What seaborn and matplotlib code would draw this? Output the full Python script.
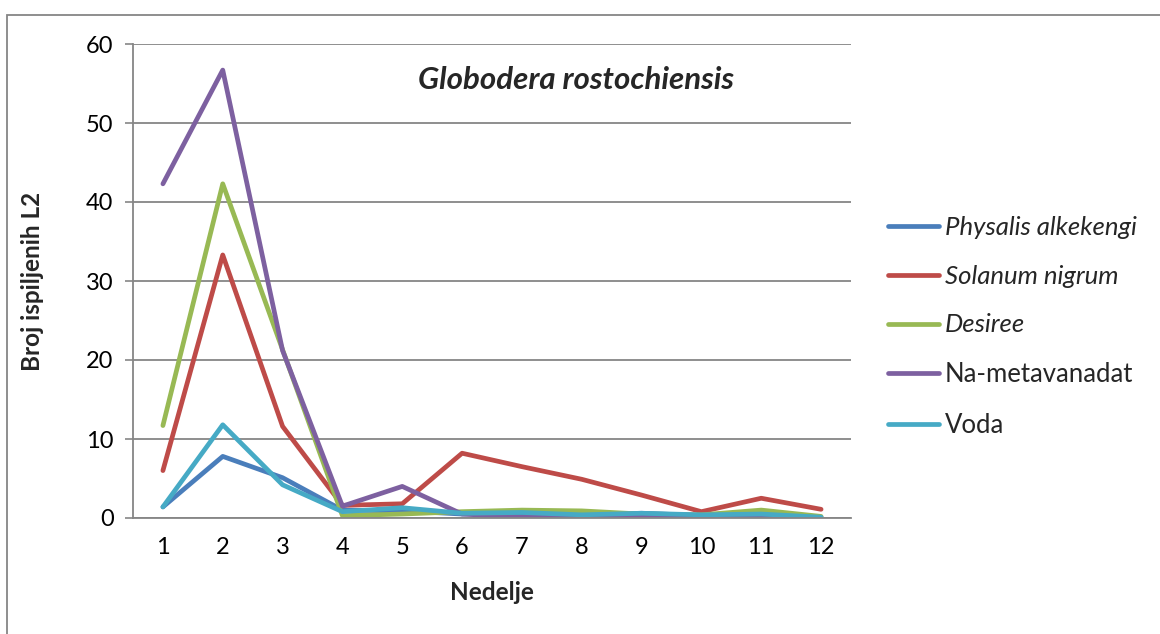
import matplotlib
matplotlib.use("Agg")
import matplotlib.pyplot as plt
import seaborn as sns
import pandas as pd
from matplotlib.patches import Rectangle
from matplotlib.lines import Line2D

weeks = [1, 2, 3, 4, 5, 6, 7, 8, 9, 10, 11, 12]
physalis = [1.4, 7.8, 5.1, 1.0, 0.9, 0.5, 0.6, 0.4, 0.6, 0.3, 0.3, 0.1]
solanum = [6.0, 33.3, 11.6, 1.6, 1.8, 8.2, 6.5, 4.9, 2.9, 0.8, 2.5, 1.1]
desiree = [11.7, 42.3, 21.3, 0.3, 0.5, 0.8, 1.0, 0.9, 0.5, 0.4, 1.0, 0.2]
vanadat = [42.3, 56.7, 21.2, 1.5, 4.0, 0.5, 0.1, 0.3, 0.3, 0.1, 0.1, 0.0]
voda = [1.4, 11.8, 4.2, 0.8, 1.3, 0.6, 0.7, 0.4, 0.6, 0.4, 0.5, 0.1]

series_names = ["Physalis alkekengi", "Solanum nigrum", "Desiree", "Na-metavanadat", "Voda"]
series_values = [physalis, solanum, desiree, vanadat, voda]
colors = ["#4A7EBB", "#BE4B48", "#98B954", "#7D60A0", "#46AAC5"]
italic_flags = [True, True, True, False, False]

rows = []
for name, vals in zip(series_names, series_values):
    for w, v in zip(weeks, vals):
        rows.append({"Nedelje": w, "value": v, "serija": name})
df = pd.DataFrame(rows)

sns.set_theme(style="white")
plt.rcParams["font.family"] = ["Lato", "DejaVu Sans"]

fig = plt.figure(figsize=(11.6, 6.34), dpi=100)
ax = fig.add_axes([133 / 1160, 1 - 518 / 634, (851 - 133) / 1160, (518 - 44) / 634])

sns.lineplot(data=df, x="Nedelje", y="value", hue="serija", hue_order=series_names,
             palette=colors, linewidth=3.4, ax=ax, legend=False,
             solid_capstyle="round", solid_joinstyle="round")

ax.set_xlim(0.5, 12.5)
ax.set_ylim(0, 60)
ax.set_yticks(range(0, 61, 10))
ax.set_xticks(weeks)
ax.set_xticks([x + 0.5 for x in range(0, 13)], minor=True)
ax.tick_params(axis="x", which="major", length=0, pad=14, labelsize=17, colors="black")
ax.tick_params(axis="x", which="minor", length=6, width=1.2, color="#868686", direction="out")
ax.tick_params(axis="y", which="major", length=6, width=1.2, color="#868686", direction="out",
               labelsize=17, pad=8, left=True, labelcolor="black")
ax.grid(axis="y", color="#868686", linewidth=1.3)
ax.grid(axis="x", visible=False)
ax.set_axisbelow(True)
for s in ["top", "right"]:
    ax.spines[s].set_visible(False)
for s in ["left", "bottom"]:
    ax.spines[s].set_color("#868686")
    ax.spines[s].set_linewidth(1.3)

ax.set_xlabel("Nedelje", fontsize=17.5, fontweight="bold")
ax.set_ylabel("Broj ispiljenih L2", fontsize=17.5, fontweight="bold")
ax.xaxis.set_label_coords(492 / 1160, 1 - 593 / 634, transform=fig.transFigure)
ax.yaxis.set_label_coords(33 / 1160, 1 - 281 / 634, transform=fig.transFigure)
ax.xaxis.label.set_va("center")
ax.yaxis.label.set_va("center")

ax.text(576 / 1160, 1 - 80 / 634, "Globodera rostochiensis", transform=fig.transFigure,
        ha="center", va="center", fontsize=22.5, fontweight="bold", fontstyle="italic")

handles = [Line2D([0], [0], color=c, linewidth=3.4, solid_capstyle="round") for c in colors]
leg = fig.legend(handles, series_names, loc="center left",
                 bbox_to_anchor=(888 / 1160, 1 - 327 / 634), frameon=False,
                 fontsize=18.5, handlelength=2.0, handletextpad=0.22, labelspacing=1.0,
                 borderaxespad=0, borderpad=0)
for t, it in zip(leg.get_texts(), italic_flags):
    if it:
        t.set_fontstyle("italic")

fig.patches.append(Rectangle((7 / 1160, -0.1), 1.2, (1 - 15 / 634) + 0.1, transform=fig.transFigure,
                             fill=False, edgecolor="#868686", linewidth=1.3))

fig.savefig("out.png", dpi=100)
